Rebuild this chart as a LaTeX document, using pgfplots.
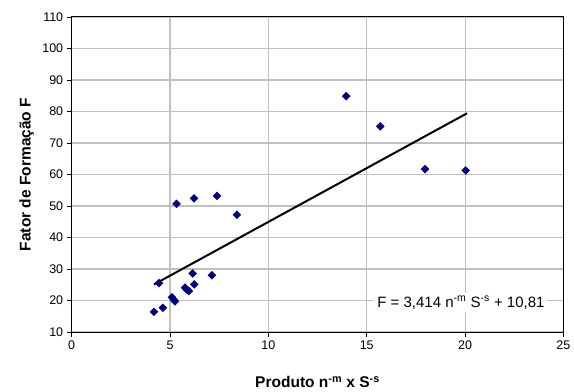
\documentclass[border=0pt]{standalone}
\usepackage{pgfplots}
\pgfplotsset{compat=1.18}
\usepackage{fontspec}
\setmainfont{Liberation Sans}
\definecolor{navyblue}{RGB}{0,0,128}
\definecolor{gridgray}{RGB}{192,192,192}
\begin{document}
\begin{tikzpicture}
\path[use as bounding box] (-71.7bp,-60bp) rectangle (502.3bp,332bp);
\begin{axis}[
  at={(0,0)}, anchor=south west,
  scale only axis, width=491.7bp, height=315bp,
  xmin=0, xmax=25, ymin=10, ymax=110,
  xtick={0,5,...,25}, ytick={10,20,...,110},
  grid=major, major grid style={gridgray, line width=1.1bp},
  axis line style={black, line width=1bp},
  tick style={black, line width=0.8bp},
  tick align=outside, tick pos=left, major tick length=5bp,
  /pgf/number format/assume math mode=true,
  ticklabel style={font=\fontsize{12.5bp}{15bp}\selectfont},
  every axis x label/.style={at={(axis description cs:0.5,-0.1587)}, anchor=center},
  every axis y label/.style={at={(axis description cs:-0.0915,0.5)}, anchor=center, rotate=90},
  label style={font=\fontsize{15.5bp}{18bp}\selectfont\bfseries},
  xlabel={Produto n\textsuperscript{-m} x S\textsuperscript{-s}},
  ylabel={Fator de Formação F},
]
\addplot[only marks, mark=square*, mark size=2.8bp, mark options={rotate=45, fill=navyblue, draw=navyblue}] coordinates {
(4.18,16.4) (4.64,17.7) (4.44,25.5) (5.1,21.0) (5.2,20.2) (5.25,19.7)
(5.76,24.1) (5.88,23.3) (5.96,23.0) (6.23,25.1) (6.15,28.6) (7.13,28.0)
(5.33,50.7) (6.22,52.4) (7.39,53.2) (8.4,47.2)
(13.96,84.9) (15.69,75.3) (17.96,61.7) (20.03,61.3)
};
\addplot[black, line width=2bp] coordinates {(4.18,25.08) (20.1,79.43)};
\node[anchor=east, fill=white, inner sep=3bp, font=\fontsize{15bp}{18bp}\selectfont] at (axis cs:24.2,19.3) {F = 3,414 n\textsuperscript{-m} S\textsuperscript{-s} + 10,81};
\end{axis}
\end{tikzpicture}
\end{document}
